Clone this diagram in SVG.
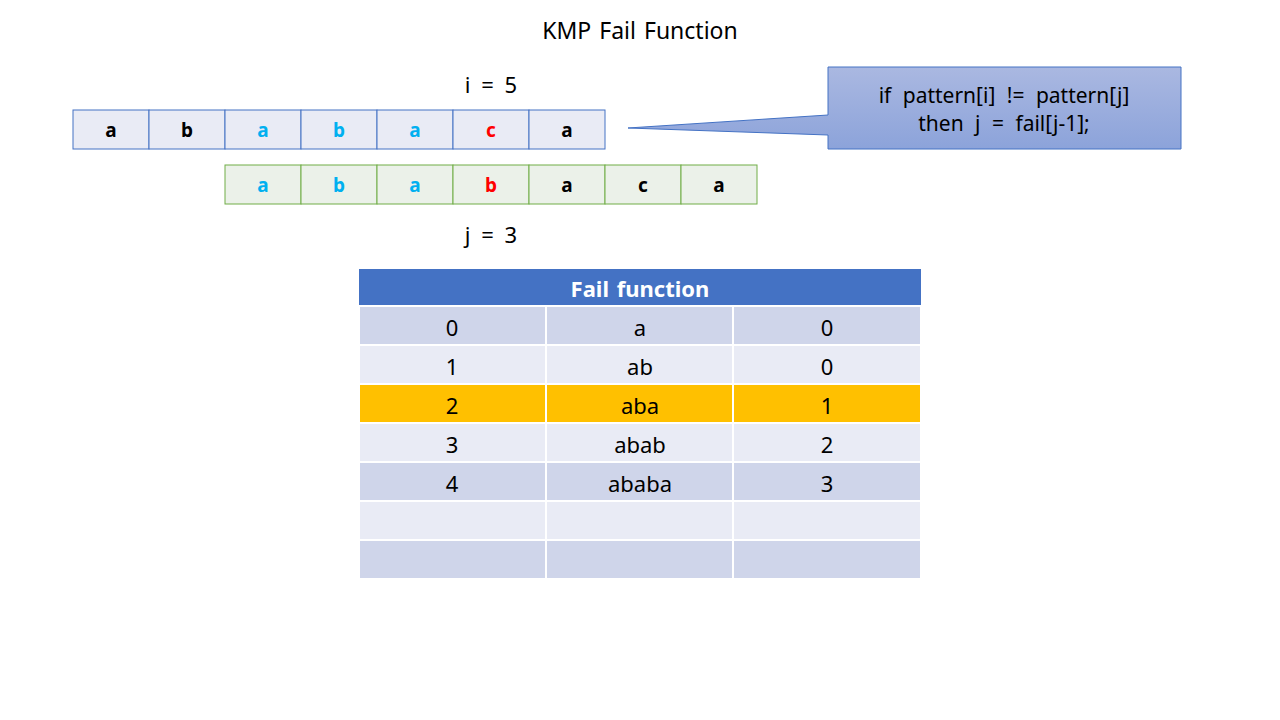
<svg xmlns="http://www.w3.org/2000/svg" width="1280" height="720" viewBox="0 0 1280 720">
  <defs>
    <linearGradient id="calloutFill" x1="0" y1="0" x2="0" y2="1">
      <stop offset="0" stop-color="#AAB8E1"/>
      <stop offset="1" stop-color="#8CA3DA"/>
    </linearGradient>
  </defs>
  <style>
    text { font-family: "Noto Sans", "Open Sans", "Liberation Sans", sans-serif; text-anchor: middle; dominant-baseline: central; }
    .label { font-size: 22px; fill: #000; word-spacing: 5px; }
    .ch { font-size: 19px; font-weight: bold; }
    .k { fill: #000; }
    .m { fill: #00B0F0; }
    .x { fill: #FF0000; }
    .txt { fill: #E9EBF5; stroke: #4472C4; stroke-width: 1; }
    .pat { fill: #EBF1E9; stroke: #70AD47; stroke-width: 1; }
    .rowA { fill: #CFD5EA; }
    .rowB { fill: #E9EBF5; }
    .rowH { fill: #FFC000; }
    .cell { font-size: 22px; fill: #000; }
  </style>
  <rect width="1280" height="720" fill="#FFFFFF"/>

  <text class="label" x="640" y="30" style="font-size:23px;word-spacing:2px">KMP Fail Function</text>
  <text class="label" x="491" y="84">i = 5</text>
  <text class="label" x="491" y="234">j = 3</text>

  <!-- text string -->
  <g id="text-row">
    <rect class="txt" x="73" y="110" width="76" height="39"/>
    <rect class="txt" x="149" y="110" width="76" height="39"/>
    <rect class="txt" x="225" y="110" width="76" height="39"/>
    <rect class="txt" x="301" y="110" width="76" height="39"/>
    <rect class="txt" x="377" y="110" width="76" height="39"/>
    <rect class="txt" x="453" y="110" width="76" height="39"/>
    <rect class="txt" x="529" y="110" width="76" height="39"/>
    <text class="ch k" x="111" y="130">a</text>
    <text class="ch k" x="187" y="130">b</text>
    <text class="ch m" x="263" y="130">a</text>
    <text class="ch m" x="339" y="130">b</text>
    <text class="ch m" x="415" y="130">a</text>
    <text class="ch x" x="491" y="130">c</text>
    <text class="ch k" x="567" y="130">a</text>
  </g>

  <!-- pattern string -->
  <g id="pattern-row">
    <rect class="pat" x="225" y="165" width="76" height="39"/>
    <rect class="pat" x="301" y="165" width="76" height="39"/>
    <rect class="pat" x="377" y="165" width="76" height="39"/>
    <rect class="pat" x="453" y="165" width="76" height="39"/>
    <rect class="pat" x="529" y="165" width="76" height="39"/>
    <rect class="pat" x="605" y="165" width="76" height="39"/>
    <rect class="pat" x="681" y="165" width="76" height="39"/>
    <text class="ch m" x="263" y="185">a</text>
    <text class="ch m" x="339" y="185">b</text>
    <text class="ch m" x="415" y="185">a</text>
    <text class="ch x" x="491" y="185">b</text>
    <text class="ch k" x="567" y="185">a</text>
    <text class="ch k" x="643" y="185">c</text>
    <text class="ch k" x="719" y="185">a</text>
  </g>

  <!-- callout with pointer -->
  <g id="callout">
    <path d="M828,67 H1181 V149 H828 V135 L628,128 L828,115 Z" fill="url(#calloutFill)" stroke="#4472C4" stroke-width="1"/>
    <text class="label" x="1004" y="95" style="font-size:21px;word-spacing:6px">if pattern[i] != pattern[j]</text>
    <text class="label" x="1004" y="123" style="font-size:21px;word-spacing:6px">then j = fail[j-1];</text>
  </g>

  <!-- fail function table -->
  <g id="fail-table">
    <rect x="359" y="269" width="562" height="36" fill="#4472C4"/>
    <text x="640" y="288" style="font-size:22px;font-weight:bold;fill:#FFFFFF;word-spacing:2px">Fail function</text>

    <g stroke="#FFFFFF" stroke-width="2">
      <rect class="rowA" x="359" y="306" width="187" height="39"/>
      <rect class="rowA" x="546" y="306" width="187" height="39"/>
      <rect class="rowA" x="733" y="306" width="188" height="39"/>
      <rect class="rowB" x="359" y="345" width="187" height="39"/>
      <rect class="rowB" x="546" y="345" width="187" height="39"/>
      <rect class="rowB" x="733" y="345" width="188" height="39"/>
      <rect class="rowH" x="359" y="384" width="187" height="39"/>
      <rect class="rowH" x="546" y="384" width="187" height="39"/>
      <rect class="rowH" x="733" y="384" width="188" height="39"/>
      <rect class="rowB" x="359" y="423" width="187" height="39"/>
      <rect class="rowB" x="546" y="423" width="187" height="39"/>
      <rect class="rowB" x="733" y="423" width="188" height="39"/>
      <rect class="rowA" x="359" y="462" width="187" height="39"/>
      <rect class="rowA" x="546" y="462" width="187" height="39"/>
      <rect class="rowA" x="733" y="462" width="188" height="39"/>
      <rect class="rowB" x="359" y="501" width="187" height="39"/>
      <rect class="rowB" x="546" y="501" width="187" height="39"/>
      <rect class="rowB" x="733" y="501" width="188" height="39"/>
      <rect class="rowA" x="359" y="540" width="187" height="39"/>
      <rect class="rowA" x="546" y="540" width="187" height="39"/>
      <rect class="rowA" x="733" y="540" width="188" height="39"/>
    </g>

    <text class="cell" x="452" y="327">0</text>
    <text class="cell" x="640" y="327">a</text>
    <text class="cell" x="827" y="327">0</text>
    <text class="cell" x="452" y="366">1</text>
    <text class="cell" x="640" y="366">ab</text>
    <text class="cell" x="827" y="366">0</text>
    <text class="cell" x="452" y="405">2</text>
    <text class="cell" x="640" y="405">aba</text>
    <text class="cell" x="827" y="405">1</text>
    <text class="cell" x="452" y="444">3</text>
    <text class="cell" x="640" y="444">abab</text>
    <text class="cell" x="827" y="444">2</text>
    <text class="cell" x="452" y="483">4</text>
    <text class="cell" x="640" y="483">ababa</text>
    <text class="cell" x="827" y="483">3</text>
  </g>
</svg>
